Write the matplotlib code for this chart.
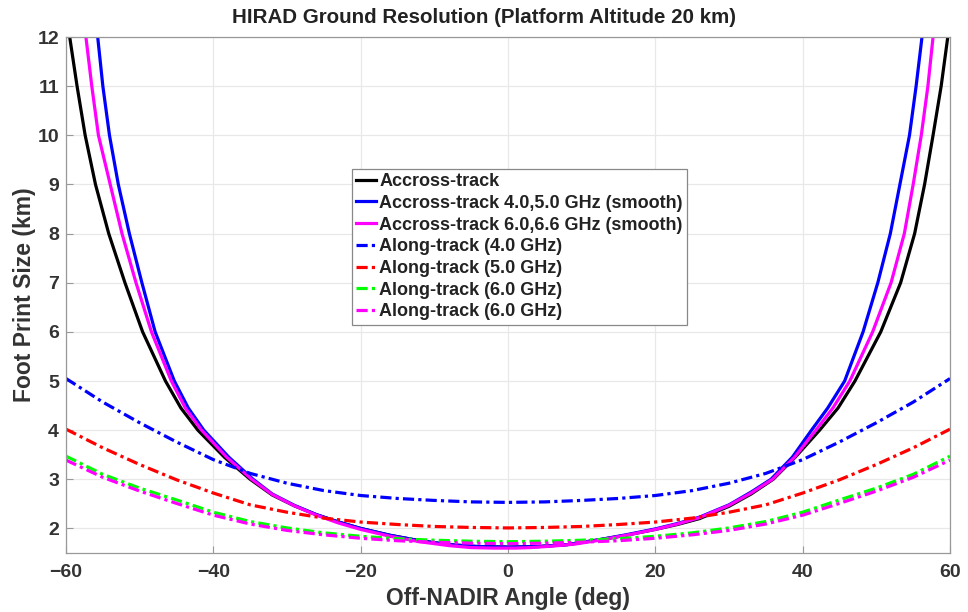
import numpy as np
import matplotlib
matplotlib.use("Agg")
import matplotlib.pyplot as plt

plt.rcParams['font.family'] = ['Liberation Sans', 'DejaVu Sans']
plt.rcParams['font.weight'] = 'bold'

# across-track footprint (angle deg, size km)
black_ang = [-59.5, -58.5, -57.4, -56.0, -54.2, -52.0, -49.6, -46.5, -44.4, -42.1, -38.5, -35.0,
             -32.0, -29.0, -26.0, -23.0, -20.0, -16.0, -12.0, -8.0, -4.0, 0.0, 4.0, 8.0, 12.0,
             16.0, 20.0, 23.0, 26.0, 30.0, 33.0, 36.0, 39.0, 42.3, 44.8, 47.1, 50.6, 53.3, 55.2,
             56.55, 57.7, 58.8, 59.7]
black_val = [12, 11, 10, 9, 8, 7, 6, 5, 4.45, 4, 3.45, 3.0,
             2.68, 2.46, 2.28, 2.13, 2.0, 1.86, 1.75, 1.67, 1.63, 1.62, 1.63, 1.67, 1.76,
             1.86, 1.98, 2.08, 2.2, 2.45, 2.7, 3.0, 3.45, 4.0, 4.45, 5.0, 6, 7, 8,
             9, 10, 11, 12]

blue_ang = [-55.7, -55.0, -54.1, -52.9, -51.4, -49.7, -47.9, -45.3, -43.4, -41.3, -37.9, -34.6,
            -32.0, -29.0, -26.0, -23.0, -20.0, -16.0, -12.0, -8.0, -4.0, 0.0, 4.0, 8.0, 12.0,
            16.0, 20.0, 23.0, 26.0, 30.0, 33.0, 35.7, 38.6, 41.2, 43.4, 45.7, 48.2, 50.2, 51.9,
            53.2, 54.5, 55.4, 56.2]
blue_val = [12, 11, 10, 9, 8, 7, 6, 5, 4.45, 4, 3.45, 3.0,
            2.7, 2.47, 2.28, 2.13, 2.0, 1.86, 1.75, 1.67, 1.63, 1.62, 1.63, 1.67, 1.76,
            1.87, 1.99, 2.1, 2.23, 2.48, 2.74, 3.0, 3.45, 4.0, 4.45, 5.0, 6, 7, 8,
            9, 10, 11, 12]

mag_ang = [-57.3, -56.5, -55.6, -54.0, -52.4, -50.5, -48.4, -45.7, -43.8, -41.6, -38.2, -34.8,
           -32.0, -29.0, -26.0, -23.0, -20.0, -16.0, -12.0, -8.0, -5.0, -2.0, 1.0, 3.0, 6.0, 9.0,
           12.0, 16.0, 20.0, 23.0, 26.0, 30.0, 33.0, 35.9, 38.9, 41.8, 44.1, 46.4, 49.5, 52.0,
           53.8, 55.0, 56.1, 57.0, 57.7]
mag_val = [12, 11, 10, 9, 8, 7, 6, 5, 4.45, 4, 3.45, 3.0,
           2.69, 2.46, 2.27, 2.11, 1.98, 1.84, 1.73, 1.65, 1.61, 1.60, 1.60, 1.61, 1.64, 1.68,
           1.75, 1.86, 1.98, 2.09, 2.22, 2.47, 2.72, 3.0, 3.45, 4.0, 4.45, 5.0, 6, 7,
           8, 9, 10, 11, 12]

# along-track footprint
along_ang = [-60, -55, -50, -45, -40, -35, -30, -25, -20, -15, -10, -5, 0,
             5, 10, 15, 20, 25, 30, 35, 40, 45, 50, 55, 60]
along_40 = [5.05, 4.57, 4.15, 3.76, 3.40, 3.12, 2.92, 2.77, 2.67, 2.61, 2.57, 2.54, 2.53,
            2.54, 2.57, 2.61, 2.67, 2.77, 2.92, 3.12, 3.40, 3.76, 4.15, 4.57, 5.05]
along_50 = [4.02, 3.64, 3.30, 2.99, 2.72, 2.48, 2.33, 2.21, 2.13, 2.08, 2.04, 2.02, 2.01,
            2.02, 2.04, 2.08, 2.13, 2.21, 2.33, 2.48, 2.72, 2.99, 3.30, 3.64, 4.02]
along_60 = [3.47, 3.10, 2.82, 2.58, 2.33, 2.14, 2.01, 1.91, 1.84, 1.79, 1.76, 1.74, 1.73,
            1.74, 1.76, 1.79, 1.84, 1.91, 2.01, 2.14, 2.33, 2.58, 2.82, 3.10, 3.47]
along_66 = [3.39, 3.04, 2.76, 2.51, 2.27, 2.09, 1.96, 1.87, 1.80, 1.75, 1.72, 1.70, 1.69,
            1.70, 1.72, 1.75, 1.80, 1.87, 1.96, 2.09, 2.27, 2.51, 2.76, 3.04, 3.39]

fig = plt.figure(figsize=(9.68, 6.12), dpi=100)
ax = fig.add_axes([0.0682, 0.0964, 0.9132, 0.8431])

lw = 2.3
ax.plot(black_ang, black_val, color='black', lw=lw, label='Accross-track')
ax.plot(blue_ang, blue_val, color='#0000ff', lw=lw, label='Accross-track 4.0,5.0 GHz (smooth)')
ax.plot(mag_ang, mag_val, color='#ff00ff', lw=lw, label='Accross-track 6.0,6.6 GHz (smooth)')

dd = (3.5, 1.3, 1.0, 1.3)
ax.plot(along_ang, along_40, color='#0000ff', lw=lw, dashes=dd, label='Along-track (4.0 GHz)')
ax.plot(along_ang, along_50, color='#ff0000', lw=lw, dashes=dd, label='Along-track (5.0 GHz)')
ax.plot(along_ang, along_60, color='#00ff00', lw=lw, dashes=dd, label='Along-track (6.0 GHz)')
ax.plot(along_ang, along_66, color='#ff00ff', lw=lw, dashes=dd, label='Along-track (6.0 GHz)')

ax.set_xlim(-60, 60)
ax.set_ylim(1.5, 12)
ax.set_xticks(range(-60, 61, 20))
ax.set_yticks(range(2, 13))
ax.grid(True, color='#e8e8e8', lw=0.9)
ax.set_axisbelow(True)
ax.tick_params(direction='in', length=5, color='#999999', labelsize=14,
               labelcolor='#333333', width=0.8)
ax.tick_params(axis='x', pad=8)
ax.tick_params(axis='y', pad=5)
for s in ax.spines.values():
    s.set_color('#999999')
    s.set_linewidth(0.9)

# title is centred on the figure, not on the axes
ax.set_title('HIRAD Ground Resolution (Platform Altitude 20 km)', fontsize=14.8,
             fontweight='bold', color='#222222', pad=10, x=0.473)
ax.set_xlabel('Off-NADIR Angle (deg)', fontsize=16.5, fontweight='bold', color='#333333', labelpad=4)
ax.set_ylabel('Foot Print Size (km)', fontsize=16.5, fontweight='bold', color='#333333', labelpad=1)

leg = ax.legend(loc='upper left', bbox_to_anchor=(0.3235, 0.745), fontsize=13,
                handlelength=1.1, handletextpad=0.15, labelspacing=0.26, borderpad=0.25,
                borderaxespad=0, fancybox=False, framealpha=1, edgecolor='#888888')
leg.get_frame().set_linewidth(0.9)
for t in leg.get_texts():
    t.set_color('#222222')

plt.savefig('out.png', dpi=100)
